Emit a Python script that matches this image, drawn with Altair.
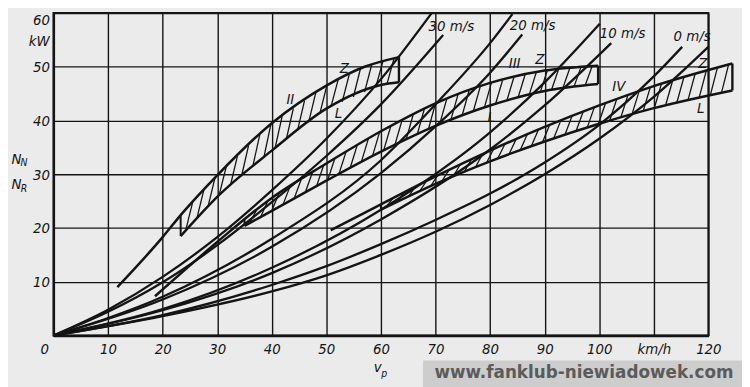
import altair as alt
import pandas as pd
import numpy as np

# ---------------- values ----------------
X_TICKS = list(range(0, 121, 10))
Y_TICKS = list(range(0, 61, 10))

# resistance power N_R, headwind 0/10/20/30 m/s, two vehicle variants (a, b)
R0A_V = [0, 20, 40, 50, 60, 70, 80, 90, 100, 110, 115.2]
R0A_N = [0, 3.8, 9.4, 12.9, 17.0, 21.5, 26.4, 32.2, 39.2, 48.2, 53.7]
R0B_V = [0, 20, 40, 50, 60, 70, 80, 90, 100, 110, 120]
R0B_N = [0, 3.6, 8.2, 11.2, 15.0, 19.3, 24.3, 30.0, 36.6, 44.4, 53.7]
R10A_V = [0, 20, 40, 60, 80, 90, 100.1]
R10A_N = [0, 4.9, 12.6, 23.4, 37.8, 47.1, 58.0]
R10B_V = [0, 20, 40, 60, 80, 90, 102.2]
R10B_N = [0, 4.7, 11.6, 21.6, 34.6, 42.8, 54.4]
R20A_V = [0, 20, 40, 60, 70, 80, 84.1]
R20A_N = [0, 7.2, 18.0, 32.6, 43.0, 54.4, 59.8]
R20B_V = [0, 20, 40, 60, 70, 80, 85.9]
R20B_N = [0, 6.7, 16.5, 30.2, 38.9, 48.9, 56.0]
R30A_V = [0, 10, 20, 30, 40, 50, 60, 69.3]
R30A_N = [0, 4.8, 10.9, 18.3, 27.0, 36.6, 47.7, 60.0]
R30B_V = [0, 10, 20, 30, 40, 50, 60, 71.4]
R30B_N = [0, 4.4, 9.9, 16.8, 24.8, 33.4, 43.0, 55.9]

# driving power N_N per gear: upper edge Z, lower edge L
II_Z_V = [11.7, 20, 23.3, 30, 40, 50, 57, 63.3]
II_Z_N = [9.0, 18.3, 22.4, 29.8, 39.5, 46.5, 50.0, 51.8]
II_L_V = [23.3, 30, 40, 50, 60, 63.3]
II_L_N = [18.5, 25.8, 34.4, 42.2, 46.6, 47.1]
III_Z_V = [18.6, 30, 40, 50, 60, 70, 80, 90, 99.8]
III_Z_N = [7.3, 17.4, 25.6, 32.0, 38.0, 43.2, 47.0, 49.3, 50.2]
III_L_V = [35, 40, 50, 60, 70, 80, 90, 99.8]
III_L_N = [20.4, 23.2, 28.8, 34.2, 39.0, 42.8, 45.5, 46.8]
IV_Z_V = [50.8, 60, 70, 80, 90, 100, 110, 124.4]
IV_Z_N = [19.6, 24.4, 29.6, 34.4, 38.8, 42.8, 46.4, 50.6]
IV_L_V = [60, 70, 80, 90, 100, 110, 124.4]
IV_L_N = [23.4, 28.2, 32.4, 36.1, 39.4, 42.3, 45.6]

WIND_LABELS = ["30 m/s", "20 m/s", "10 m/s", "0 m/s"]
WIND_LABEL_V = [72.9, 87.8, 104.3, 117.0]
WIND_LABEL_N = [57.6, 57.7, 56.2, 55.7]
GEAR_LABELS = ["II", "III", "IV"]
GEAR_LABEL_V = [43.4, 84.5, 103.6]
GEAR_LABEL_N = [44.0, 50.6, 46.4]
Z_LABEL_V = [53.3, 89.1, 119.0]
Z_LABEL_N = [49.7, 51.5, 50.6]
L_LABEL_V = [52.2, 80.2, 118.6]
L_LABEL_N = [41.4, 40.6, 42.3]

# ---------------- styling ----------------
BG = "#ebebeb"
INK = "#141414"
FONT = "'DejaVu Sans Condensed', 'Liberation Sans Narrow', 'Liberation Sans', sans-serif"
FS = 15
W, H = 662, 326

xs = alt.Scale(domain=[0, 120], nice=False, zero=False)
ys = alt.Scale(domain=[0, 60], nice=False, zero=False)

# ---------------- tables ----------------
res = []
for name, vv, nn in [("0a", R0A_V, R0A_N), ("0b", R0B_V, R0B_N),
                     ("10a", R10A_V, R10A_N), ("10b", R10B_V, R10B_N),
                     ("20a", R20A_V, R20A_N), ("20b", R20B_V, R20B_N),
                     ("30a", R30A_V, R30A_N), ("30b", R30B_V, R30B_N)]:
    for v, n in zip(vv, nn):
        res.append({"curve": name, "v": v, "n": n})
res_df = pd.DataFrame(res)

bands = [("II", II_Z_V, II_Z_N, II_L_V, II_L_N),
         ("III", III_Z_V, III_Z_N, III_L_V, III_L_N),
         ("IV", IV_Z_V, IV_Z_N, IV_L_V, IV_L_N)]
edge_rows, seg_rows = [], []
for g, zv, zn, lv, ln in bands:
    for v, n in zip(zv, zn):
        edge_rows.append({"curve": g + "Z", "v": v, "n": n})
    for v, n in zip(lv, ln):
        edge_rows.append({"curve": g + "L", "v": v, "n": n})
    # closing end and start of each hatched band
    seg_rows.append({"v": lv[-1], "n": ln[-1], "v2": zv[-1], "n2": zn[-1], "w": 2.4})
    seg_rows.append({"v": lv[0], "n": ln[0], "v2": lv[0],
                     "n2": float(np.interp(lv[0], zv, zn)), "w": 2.0})
    # hatching between the edges
    step, lean = 2.05, 1.3
    hv = lv[0] + 0.9
    while hv + lean < lv[-1] - 0.3:
        seg_rows.append({"v": hv, "n": float(np.interp(hv, lv, ln)),
                         "v2": hv + lean, "n2": float(np.interp(hv + lean, zv, zn)), "w": 1.3})
        hv += step
edge_df = pd.DataFrame(edge_rows)
seg_df = pd.DataFrame(seg_rows)

txt = []
for t, v, n in zip(WIND_LABELS, WIND_LABEL_V, WIND_LABEL_N):
    txt.append({"t": t, "v": v, "n": n, "s": FS})
for t, v, n in zip(GEAR_LABELS, GEAR_LABEL_V, GEAR_LABEL_N):
    txt.append({"t": t, "v": v, "n": n, "s": FS})
for v, n in zip(Z_LABEL_V, Z_LABEL_N):
    txt.append({"t": "Z", "v": v, "n": n, "s": FS})
for v, n in zip(L_LABEL_V, L_LABEL_N):
    txt.append({"t": "L", "v": v, "n": n, "s": FS})
# axis titles and units
txt += [
    {"t": "kW", "v": -2.6, "n": 54.8, "s": FS},
    {"t": "0", "v": -1.6, "n": -2.6, "s": FS},
    {"t": "N", "v": -6.8, "n": 32.9, "s": FS},
    {"t": "N", "v": -5.4, "n": 32.1, "s": 10.5},
    {"t": "N", "v": -6.8, "n": 28.1, "s": FS},
    {"t": "R", "v": -5.4, "n": 27.3, "s": 10.5},
    {"t": "v", "v": 59.4, "n": -5.9, "s": FS},
    {"t": "p", "v": 60.6, "n": -7.1, "s": 10.5},
]
txt_df = pd.DataFrame(txt)

wm_box = pd.DataFrame([{"v": 67.7, "v2": 127.0, "n": -4.66, "n2": -9.6}])
wm_txt = pd.DataFrame([{"t": "www.fanklub-niewiadowek.com", "v": 97.2, "n": -6.95}])

# ---------------- chart ----------------
x_axis = alt.Axis(values=X_TICKS, grid=True, gridColor=INK, gridWidth=1.4, gridOpacity=1,
                  domain=True, domainColor=INK, domainWidth=2.6, ticks=False,
                  labelFont=FONT, labelFontStyle="italic", labelFontSize=FS, labelColor=INK,
                  labelPadding=6, labelFlush=False, labelOverlap=False,
                  labelExpr="datum.value == 110 ? 'km/h' : (datum.value == 0 ? '' : datum.label)",
                  title=None)
y_axis = alt.Axis(values=Y_TICKS, grid=True, gridColor=INK, gridWidth=1.4, gridOpacity=1,
                  domain=True, domainColor=INK, domainWidth=2.2, ticks=False,
                  labelFont=FONT, labelFontStyle="italic", labelFontSize=FS, labelColor=INK,
                  labelPadding=4, labelFlush=True, labelOverlap=False,
                  labelExpr="datum.value == 0 ? '' : datum.label", title=None)

X = alt.X("v:Q", scale=xs, axis=x_axis)
Y = alt.Y("n:Q", scale=ys, axis=y_axis)

res_layer = alt.Chart(res_df).mark_line(color=INK, strokeWidth=2.3, interpolate="monotone").encode(
    x=X, y=Y, detail="curve:N",
)
edge_layer = alt.Chart(edge_df).mark_line(color=INK, strokeWidth=2.5, interpolate="monotone").encode(
    x=X, y=Y, detail="curve:N",
)
seg_layer = alt.Chart(seg_df).mark_rule(color=INK).encode(
    x=X, y=Y, x2="v2:Q", y2="n2:Q",
    strokeWidth=alt.StrokeWidth("w:Q", scale=None),
)
txt_layer = alt.Chart(txt_df).mark_text(color=INK, font=FONT, fontStyle="italic",
                                        baseline="middle", align="center").encode(
    x=X, y=Y, text="t:N",
    size=alt.Size("s:Q", scale=None),
)
wm_rect = alt.Chart(wm_box).mark_rect(color="#cdcdcd").encode(
    x=X, x2="v2:Q", y=Y, y2="n2:Q",
)
wm_text = alt.Chart(wm_txt).mark_text(color="#5b5b5b", font="DejaVu Sans", fontWeight="bold",
                                      fontSize=17, baseline="middle", align="center").encode(
    x=X, y=Y, text="t:N",
)

chart = alt.layer(res_layer, edge_layer, seg_layer, txt_layer, wm_rect, wm_text).properties(
    width=W, height=H,
    autosize=alt.AutoSizeParams(type="none"),
    padding={"left": 46, "top": 3, "right": 34, "bottom": 50},
    background=BG,
).configure_view(stroke=INK, strokeWidth=2)

chart.save("out.html", embed_options={"renderer": "svg", "actions": False})
